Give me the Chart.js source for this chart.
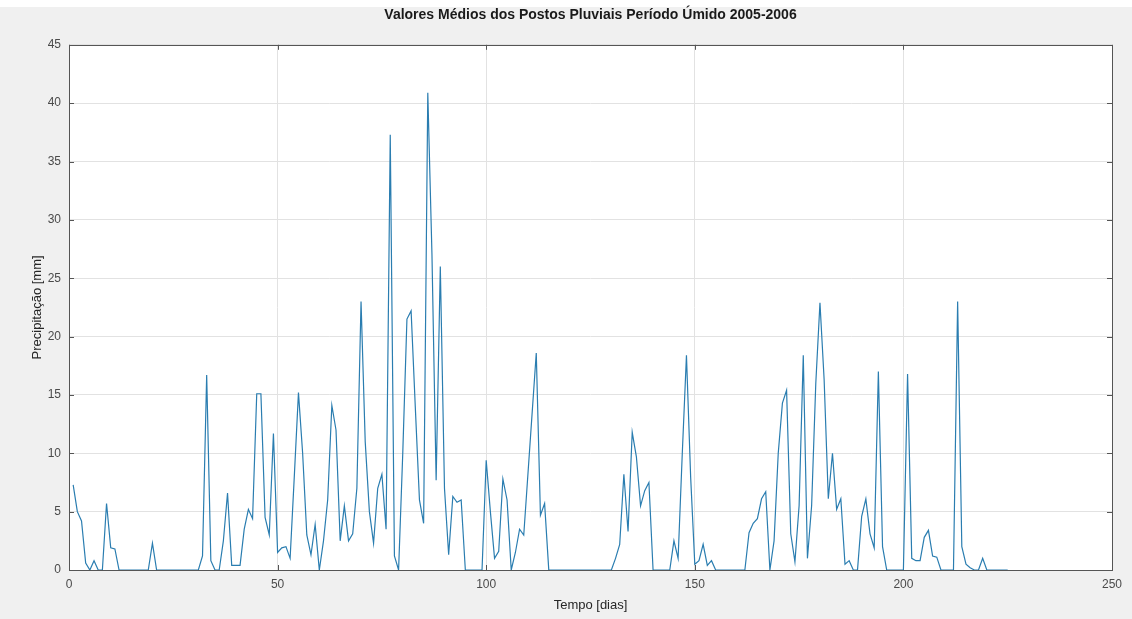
<!DOCTYPE html>
<html>
<head>
<meta charset="utf-8">
<title>Valores Médios dos Postos Pluviais</title>
<script src="https://cdn.jsdelivr.net/npm/chart.js@4.4.1/dist/chart.umd.min.js"></script>
<style>
  html, body { margin: 0; padding: 0; background: #f0f0f0; }
  #wrap { width: 1132px; height: 619px; }
</style>
</head>
<body>
<div id="wrap"><canvas id="grafico" width="1132" height="619"></canvas></div>
<script>
// ---------------------------------------------------------------
// dados (média diária dos postos, mm) - dia 1 até dia 225
// ---------------------------------------------------------------
const PRECIPITACAO = [
  7.3, 5.0, 4.2, 0.6, 0.0, 0.8, 0.0, 0.0, 5.7, 1.9,      // 1-10
  1.8, 0.0, 0.0, 0.0, 0.0, 0.0, 0.0, 0.0, 0.0, 2.3,      // 11-20
  0.0, 0.0, 0.0, 0.0, 0.0, 0.0, 0.0, 0.0, 0.0, 0.0,      // 21-30
  0.0, 1.2, 16.7, 0.8, 0.0, 0.0, 2.5, 6.6, 0.4, 0.4,     // 31-40
  0.4, 3.5, 5.2, 4.4, 15.1, 15.1, 4.5, 3.0, 11.7, 1.5,   // 41-50
  1.9, 2.0, 1.0, 8.0, 15.2, 10.0, 3.0, 1.3, 3.9, 0.0,    // 51-60
  2.5, 6.0, 14.1, 12.0, 2.5, 5.5, 2.5, 3.1, 7.0, 23.0,   // 61-70
  11.0, 5.0, 2.3, 7.0, 8.2, 3.5, 37.3, 1.2, 0.0, 10.0,   // 71-80
  21.5, 22.2, 14.0, 6.0, 4.0, 40.9, 27.0, 7.7, 26.0, 7.0, // 81-90
  1.3, 6.3, 5.8, 6.0, 0.0, 0.0, 0.0, 0.0, 0.0, 9.4,      // 91-100
  5.0, 1.0, 1.6, 7.8, 6.0, 0.0, 1.5, 3.5, 3.0, 8.2,      // 101-110
  13.4, 18.6, 4.7, 5.7, 0.0, 0.0, 0.0, 0.0, 0.0, 0.0,    // 111-120
  0.0, 0.0, 0.0, 0.0, 0.0, 0.0, 0.0, 0.0, 0.0, 0.0,      // 121-130
  1.0, 2.2, 8.2, 3.3, 11.8, 9.7, 5.5, 6.8, 7.5, 0.0,     // 131-140
  0.0, 0.0, 0.0, 0.0, 2.5, 1.0, 10.0, 18.4, 8.0, 0.5,    // 141-150
  0.8, 2.2, 0.4, 0.8, 0.0, 0.0, 0.0, 0.0, 0.0, 0.0,      // 151-160
  0.0, 0.0, 3.2, 4.0, 4.4, 6.1, 6.7, 0.0, 2.5, 10.0,     // 161-170
  14.3, 15.4, 3.1, 0.7, 5.5, 18.4, 1.0, 5.5, 16.0, 22.9, // 171-180
  16.3, 6.1, 10.0, 5.2, 6.1, 0.5, 0.8, 0.0, 0.0, 4.6,    // 181-190
  6.1, 3.1, 1.9, 17.0, 2.0, 0.0, 0.0, 0.0, 0.0, 0.0,     // 191-200
  16.8, 1.0, 0.8, 0.8, 2.8, 3.4, 1.2, 1.1, 0.0, 0.0,     // 201-210
  0.0, 0.0, 23.0, 2.0, 0.5, 0.2, 0.0, 0.0, 1.0, 0.0,     // 211-220
  0.0, 0.0, 0.0, 0.0, 0.0                                 // 221-225
];
const DIAS = PRECIPITACAO.map((_, i) => i + 1);

const X_TICKS = [0, 50, 100, 150, 200, 250];
const Y_TICKS = [0, 5, 10, 15, 20, 25, 30, 35, 40, 45];

const TITULO = 'Valores Médios dos Postos Pluviais Período Úmido 2005-2006';
const TITULO_X = 'Tempo [dias]';
const TITULO_Y = 'Precipitação [mm]';

// ---------------------------------------------------------------
// fundo cinza estilo figura do MATLAB + moldura com ticks para dentro
// ---------------------------------------------------------------
const fundoFigura = {
  id: 'fundoFigura',
  beforeDraw(chart) {
    const { ctx, chartArea: a, width, height } = chart;
    ctx.save();
    ctx.fillStyle = '#f0f0f0';
    ctx.fillRect(0, 0, width, height);
    ctx.fillStyle = '#ffffff';
    ctx.fillRect(0, 0, width, 7);
    ctx.fillRect(a.left, a.top, a.right - a.left, a.bottom - a.top);
    ctx.restore();
  }
};

const moldura = {
  id: 'moldura',
  beforeDatasetsDraw(chart) {
    const { ctx, chartArea: a, scales } = chart;
    const tam = 5;
    ctx.save();
    ctx.strokeStyle = '#555555';
    ctx.lineWidth = 1;
    ctx.beginPath();
    scales.x.ticks.forEach(t => {
      const px = Math.round(scales.x.getPixelForValue(t.value)) + 0.5;
      ctx.moveTo(px, a.bottom); ctx.lineTo(px, a.bottom - tam);
      ctx.moveTo(px, a.top); ctx.lineTo(px, a.top + tam);
    });
    scales.y.ticks.forEach(t => {
      const py = Math.round(scales.y.getPixelForValue(t.value)) + 0.5;
      ctx.moveTo(a.left, py); ctx.lineTo(a.left + tam, py);
      ctx.moveTo(a.right, py); ctx.lineTo(a.right - tam, py);
    });
    ctx.stroke();
    ctx.strokeRect(Math.round(a.left) + 0.5, Math.round(a.top) + 0.5,
                   Math.round(a.right - a.left), Math.round(a.bottom - a.top));
    ctx.restore();
  }
};

const corTexto = '#4a4a4a';
const corGrade = '#e2e2e2';

new Chart(document.getElementById('grafico'), {
  type: 'line',
  data: {
    datasets: [{
      label: 'Precipitação',
      data: DIAS.map((d, i) => ({ x: d, y: PRECIPITACAO[i] })),
      borderColor: '#2a7db0',
      borderWidth: 1.2,
      pointRadius: 0,
      tension: 0,
      fill: false
    }]
  },
  options: {
    responsive: false,
    animation: false,
    layout: { padding: { left: 0, right: 20, top: 0, bottom: 0 } },
    plugins: {
      legend: { display: false },
      tooltip: { enabled: false },
      title: {
        display: true,
        text: TITULO,
        fullSize: false,
        color: '#1a1a1a',
        font: { family: '"Liberation Sans", Arial, sans-serif', size: 14, weight: 'bold' },
        padding: { top: 7, bottom: 21 }
      }
    },
    scales: {
      x: {
        type: 'linear',
        min: 0, max: 250,
        afterBuildTicks: s => { s.ticks = X_TICKS.map(v => ({ value: v })); },
        afterFit: s => { s.height = 49; },
        grid: { color: corGrade, drawTicks: false },
        border: { display: false },
        ticks: {
          color: corTexto, padding: 7,
          font: { family: '"Liberation Sans", Arial, sans-serif', size: 12 }
        },
        title: {
          display: true, text: TITULO_X, color: '#262626',
          font: { family: '"Liberation Sans", Arial, sans-serif', size: 13 },
          padding: { top: 0, bottom: 6 }
        }
      },
      y: {
        min: 0, max: 45,
        afterBuildTicks: s => { s.ticks = Y_TICKS.map(v => ({ value: v })); },
        afterFit: s => { s.width = 69; },
        grid: { color: corGrade, drawTicks: false },
        border: { display: false },
        ticks: {
          color: corTexto, padding: 8,
          font: { family: '"Liberation Sans", Arial, sans-serif', size: 12 }
        },
        title: {
          display: true, text: TITULO_Y, color: '#262626',
          font: { family: '"Liberation Sans", Arial, sans-serif', size: 13 },
          padding: { top: 30, bottom: 0 }
        }
      }
    }
  },
  plugins: [fundoFigura, moldura]
});
</script>
</body>
</html>
